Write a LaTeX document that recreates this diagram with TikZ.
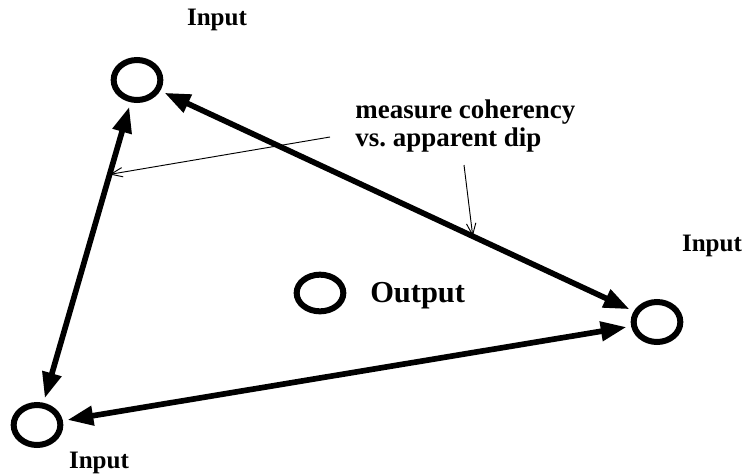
\documentclass[tikz,border=0pt]{standalone}
\usepackage{fontspec}
\setmainfont{Liberation Serif}
\usetikzlibrary{arrows.meta,shapes.geometric}
\tikzset{
    station/.style={ellipse, draw, line width=0.09cm, minimum width=0.7cm, minimum height=0.6cm, inner sep=0pt},
    bigarrow/.style={line width=0.085cm, {Triangle[length=11pt,width=8pt]}-{Triangle[length=11pt,width=8pt]}, shorten <=2pt, shorten >=2pt},
    thinarrow/.style={line width=0.4pt, -{Straight Barb[length=5pt,width=4pt]}},
    lbl/.style={font=\bfseries\fontsize{10.7}{12}\selectfont}
}

\begin{document}
\begin{tikzpicture}[x=0.015cm, y=-0.015cm]
    \useasboundingbox (0,0) rectangle (755,473);

    % Stations
    \node[station] (in1) at (137,80) {};
    \node[station] (in2) at (657,322) {};
    \node[station] (in3) at (37,425) {};
    \node[station, minimum height=0.55cm] (out) at (320,293) {};

    % Labels
    \node[lbl] (l1) at (217,20) {Input};
    \node[lbl] (l2) at (712,246) {Input};
    \node[lbl] (l3) at (99,463) {Input};
    \node[lbl, font=\bfseries\fontsize{13}{15}\selectfont, anchor=west] (lo) at (362,296) {Output};
    \node[lbl, font=\bfseries\fontsize{11.5}{11.8}\selectfont, anchor=west, align=left, inner sep=0pt] (note) at (355,126) {measure coherency\\vs.\ apparent dip};

    % Pair connections
    \draw[bigarrow] (in1) -- (in2) coordinate[pos=0.66] (p12);
    \draw[bigarrow] (in2) -- (in3);
    \draw[bigarrow] (in1) -- (in3) coordinate[pos=0.24] (p13);

    % Pointers from the note
    \coordinate (n1) at (330,137);
    \coordinate (n2) at (464,165);
    \draw[thinarrow] (n1) -- (p13);
    \draw[thinarrow] (n2) -- (p12);
\end{tikzpicture}
\end{document}
